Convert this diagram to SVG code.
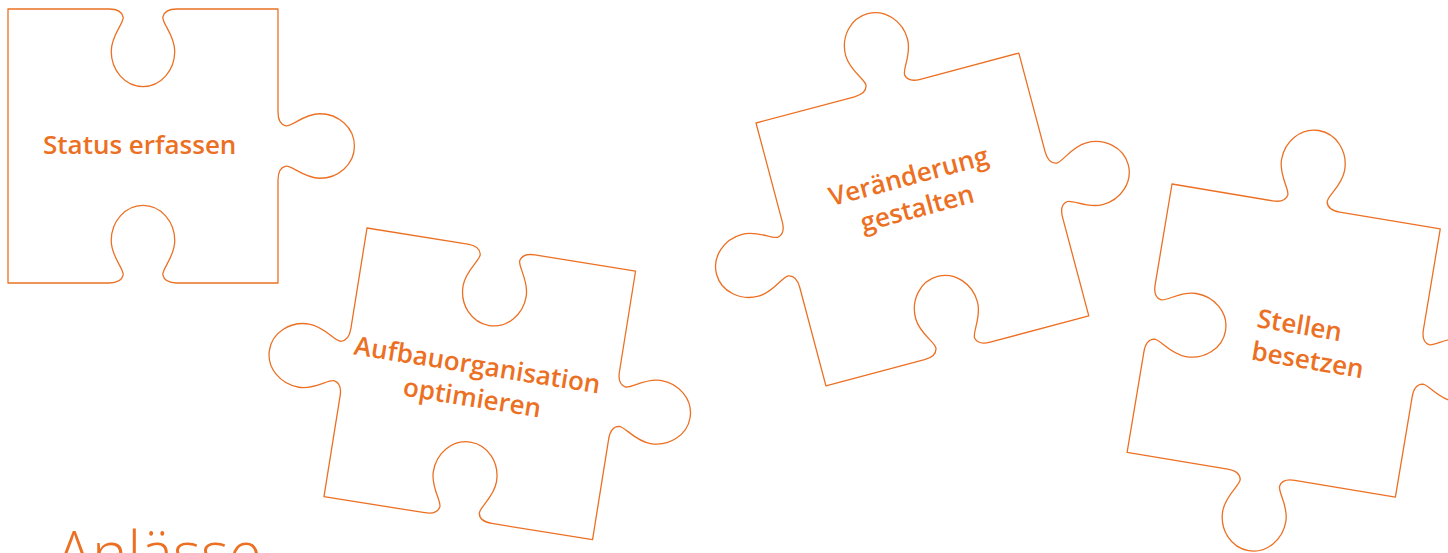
<svg xmlns="http://www.w3.org/2000/svg" width="1448" height="553" viewBox="0 0 1448 553">
<style>
.piece{fill:none;stroke:#EC7023;stroke-width:1.3;stroke-linejoin:round}
.lbl{font-family:"Open Sans","Noto Sans","Liberation Sans",sans-serif;font-weight:600;font-size:26px;fill:#EC7023}
.title{font-family:"Open Sans","Noto Sans","Liberation Sans",sans-serif;font-weight:300;font-size:60px;fill:#EC7023}
</style>
<rect width="1448" height="553" fill="#fff"/>
<g id="piece-status">
<path class="piece" transform="translate(8,9) scale(0.9926,1.0074)" d="M0 0 L102 0 C110 0 115 3 116 8 C117 14 104 26 104 42 C104 61 118 77 136 77 C154 77 168 61 168 42 C168 26 155 14 156 8 C157 3 162 0 170 0 L272 0 L272 102 C272 110 275 115 280 116 C286 117 298 104 314 104 C333 104 349 118 349 136 C349 154 333 168 314 168 C298 168 286 155 280 156 C275 157 272 162 272 170 L272 272 L170 272 C162 272 157 269 156 264 C155 258 168 246 168 230 C168 211 154 195 136 195 C118 195 104 211 104 230 C104 246 117 258 116 264 C115 269 110 272 102 272 L0 272 Z"/>
<text class="lbl" x="43" y="154">Status erfassen</text>
</g>
<g id="piece-aufbau">
<path class="piece" transform="translate(367,228) rotate(9.1)" d="M0 0 L102 0 C110 0 115 3 116 8 C117 14 104 26 104 42 C104 61 118 77 136 77 C154 77 168 61 168 42 C168 26 155 14 156 8 C157 3 162 0 170 0 L272 0 L272 102 C272 110 275 115 280 116 C286 117 298 104 314 104 C333 104 349 118 349 136 C349 154 333 168 314 168 C298 168 286 155 280 156 C275 157 272 162 272 170 L272 272 L170 272 C162 272 157 269 156 264 C155 258 168 246 168 230 C168 211 154 195 136 195 C118 195 104 211 104 230 C104 246 117 258 116 264 C115 269 110 272 102 272 L0 272 L0 170 C0 162 -3 157 -8 156 C-14 155 -26 168 -42 168 C-61 168 -77 154 -77 136 C-77 118 -61 104 -42 104 C-26 104 -14 117 -8 116 C-3 115 0 110 0 102 Z"/>
<g transform="translate(476,374) rotate(9.1)">
<text class="lbl" x="0" y="0" text-anchor="middle">Aufbauorganisation</text>
<text class="lbl" x="0" y="33" text-anchor="middle">optimieren</text>
</g>
</g>
<g id="piece-veraenderung">
<path class="piece" transform="translate(756,123) rotate(-14.9)" d="M0 0 L102 0 C110 0 115 -3 116 -8 C117 -14 104 -26 104 -42 C104 -61 118 -77 136 -77 C154 -77 168 -61 168 -42 C168 -26 155 -14 156 -8 C157 -3 162 0 170 0 L272 0 L272 102 C272 110 275 115 280 116 C286 117 298 104 314 104 C333 104 349 118 349 136 C349 154 333 168 314 168 C298 168 286 155 280 156 C275 157 272 162 272 170 L272 272 L170 272 C162 272 157 269 156 264 C155 258 168 246 168 230 C168 211 154 195 136 195 C118 195 104 211 104 230 C104 246 117 258 116 264 C115 269 110 272 102 272 L0 272 L0 170 C0 162 -3 157 -8 156 C-14 155 -26 168 -42 168 C-61 168 -77 154 -77 136 C-77 118 -61 104 -42 104 C-26 104 -14 117 -8 116 C-3 115 0 110 0 102 Z"/>
<g transform="translate(911,185) rotate(-15)">
<text class="lbl" x="0" y="0" text-anchor="middle">Veränderung</text>
<text class="lbl" x="0" y="33" text-anchor="middle">gestalten</text>
</g>
</g>
<g id="piece-stellen">
<path class="piece" transform="translate(1172,184) rotate(9.5)" d="M0 0 L102 0 C110 0 115 -3 116 -8 C117 -14 104 -26 104 -42 C104 -61 118 -77 136 -77 C154 -77 168 -61 168 -42 C168 -26 155 -14 156 -8 C157 -3 162 0 170 0 L272 0 L272 102 C272 110 275 115 280 116 C286 117 298 104 314 104 C333 104 349 118 349 136 C349 154 333 168 314 168 C298 168 286 155 280 156 C275 157 272 162 272 170 L272 272 L170 272 C162 272 157 275 156 280 C155 286 168 298 168 314 C168 333 154 349 136 349 C118 349 104 333 104 314 C104 298 117 286 116 280 C115 275 110 272 102 272 L0 272 L0 170 C0 162 3 157 8 156 C14 155 26 168 42 168 C61 168 77 154 77 136 C77 118 61 104 42 104 C26 104 14 117 8 116 C3 115 0 110 0 102 Z"/>
<g transform="translate(1256,327) rotate(9.5)">
<text class="lbl" x="0" y="0">Stellen</text>
<text class="lbl" x="0" y="33">besetzen</text>
</g>
</g>
<text id="title" class="title" x="56" y="575">Anlässe</text>
</svg>
